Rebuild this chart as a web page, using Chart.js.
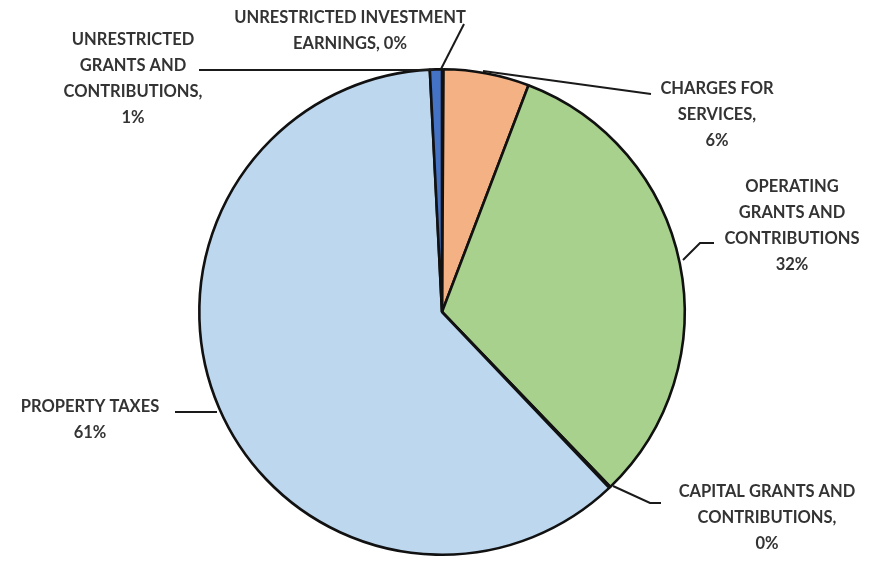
<!DOCTYPE html>
<html>
<head>
<meta charset="utf-8">
<script src="https://cdn.jsdelivr.net/npm/chart.js@4"></script>
<style>
  html, body { margin: 0; padding: 0; background: #fff; }
  #wrap { width: 872px; height: 562px; position: relative; }
</style>
</head>
<body>
<div id="wrap"><canvas id="mainChart" width="872" height="562"></canvas></div>
<script>
// Dữ liệu (phần trăm)
const categories = [
    'UNRESTRICTED INVESTMENT EARNINGS',
    'CHARGES FOR SERVICES',
    'OPERATING GRANTS AND CONTRIBUTIONS',
    'CAPITAL GRANTS AND CONTRIBUTIONS',
    'PROPERTY TAXES',
    'UNRESTRICTED GRANTS AND CONTRIBUTIONS'
];
const values = [0.1, 5.7, 32.0, 0.1, 61.3, 0.8];
const shownPercents = ['0%', '6%', '32%', '0%', '61%', '1%'];
const colors = ['#4472C4', '#F4B183', '#A9D18E', '#8FAADC', '#BDD7EE', '#4472C4'];

// Nhãn: các dòng chữ, tâm chữ, đường dẫn
const labelLayout = [
    { lines: ['UNRESTRICTED INVESTMENT', 'EARNINGS, ' + shownPercents[0]], x: 350, y: 18, leader: [[441, 69], [464, 24]] },
    { lines: ['CHARGES FOR', 'SERVICES,', shownPercents[1]], x: 717, y: 89, leader: [[483, 71], [651, 94]] },
    { lines: ['OPERATING', 'GRANTS AND', 'CONTRIBUTIONS', shownPercents[2]], x: 792, y: 187, leader: [[683, 260], [700, 243], [714, 243]] },
    { lines: ['CAPITAL GRANTS AND', 'CONTRIBUTIONS,', shownPercents[3]], x: 767, y: 492, leader: [[613, 486], [650, 503], [661, 503]] },
    { lines: ['PROPERTY TAXES', shownPercents[4]], x: 90, y: 407, leader: [[175, 412], [217, 412]] },
    { lines: ['UNRESTRICTED', 'GRANTS AND', 'CONTRIBUTIONS,', shownPercents[5]], x: 133, y: 40, leader: [[199, 70], [434, 70]] }
];
const lineGap = 26;

const labelPlugin = {
    id: 'sliceLabels',
    afterDraw(chart) {
        const c = chart.ctx;
        c.save();
        c.strokeStyle = '#1a1a1a';
        c.lineWidth = 2;
        labelLayout.forEach(l => {
            c.beginPath();
            l.leader.forEach((p, i) => i ? c.lineTo(p[0], p[1]) : c.moveTo(p[0], p[1]));
            c.stroke();
        });
        c.fillStyle = '#333';
        c.font = 'bold 16.5px Lato';
        c.textAlign = 'center';
        c.textBaseline = 'middle';
        labelLayout.forEach(l => {
            l.lines.forEach((t, i) => c.fillText(t, l.x, l.y + i * lineGap));
        });
        c.restore();
    }
};

const ctx = document.getElementById('mainChart').getContext('2d');
new Chart(ctx, {
    type: 'pie',
    data: {
        labels: categories,
        datasets: [{
            data: values,
            backgroundColor: colors,
            borderColor: '#111',
            borderWidth: 2.6
        }]
    },
    options: {
        responsive: false,
        animation: false,
        layout: { padding: { top: 68, bottom: 6, left: 198, right: 186 } },
        plugins: {
            legend: { display: false },
            tooltip: { enabled: false }
        }
    },
    plugins: [labelPlugin]
});
</script>
</body>
</html>
